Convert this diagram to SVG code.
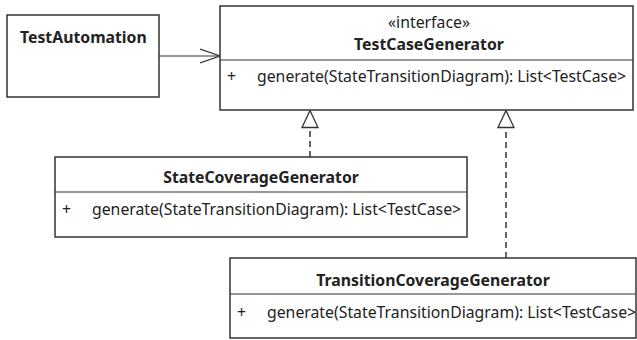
<svg xmlns="http://www.w3.org/2000/svg" width="637" height="340" viewBox="0 0 637 340">
<defs>
<style>
.box{fill:#fff;stroke:#333;stroke-width:1.5}
.ln{stroke:#333;stroke-width:1.2;fill:none}
.t{font-family:"Noto Sans","Open Sans",sans-serif;font-size:15.8px;fill:#222}
.b{font-weight:bold}
.dash{stroke:#333;stroke-width:1.5;stroke-dasharray:6,4;fill:none}
</style>
<marker id="open" markerWidth="22" markerHeight="16" refX="20" refY="8" orient="auto" markerUnits="userSpaceOnUse">
<path d="M0,1 L20,8 L0,15" fill="none" stroke="#333" stroke-width="1.3"/>
</marker>
<marker id="tri" markerWidth="20" markerHeight="20" refX="18" refY="9" orient="auto" markerUnits="userSpaceOnUse">
<path d="M1,1 L18,9 L1,17 Z" fill="#fff" stroke="#333" stroke-width="1.3"/>
</marker>
</defs>
<rect width="637" height="340" fill="#fff"/>
<g id="connectors">
<line class="ln" x1="159" y1="56" x2="220" y2="56" marker-end="url(#open)"/>
<line class="dash" x1="310" y1="157" x2="310" y2="110.5" marker-end="url(#tri)"/>
<line class="dash" x1="506" y1="258" x2="506" y2="110.5" marker-end="url(#tri)"/>
</g>
<g id="TestAutomation">
<rect class="box" x="7" y="15" width="152" height="82"/>
<text class="t b" x="20" y="42.5">TestAutomation</text>
</g>
<g id="TestCaseGenerator">
<rect class="box" x="220" y="6" width="413" height="104"/>
<line class="ln" x1="220" y1="60" x2="633" y2="60"/>
<text class="t" x="429" y="28" text-anchor="middle">«interface»</text>
<text class="t b" x="429" y="50" text-anchor="middle">TestCaseGenerator</text>
<text class="t" x="227" y="82">+</text>
<text class="t" x="257" y="82">generate(StateTransitionDiagram): List&lt;TestCase&gt;</text>
</g>
<g id="StateCoverageGenerator">
<rect class="box" x="55" y="157" width="412" height="80"/>
<line class="ln" x1="55" y1="192" x2="467" y2="192"/>
<text class="t b" x="261" y="183" text-anchor="middle">StateCoverageGenerator</text>
<text class="t" x="62" y="215">+</text>
<text class="t" x="92" y="215">generate(StateTransitionDiagram): List&lt;TestCase&gt;</text>
</g>
<g id="TransitionCoverageGenerator">
<rect class="box" x="230" y="258" width="406" height="80"/>
<line class="ln" x1="230" y1="294" x2="636" y2="294"/>
<text class="t b" x="433" y="285.5" text-anchor="middle">TransitionCoverageGenerator</text>
<text class="t" x="237" y="317.5">+</text>
<text class="t" x="267" y="317.5">generate(StateTransitionDiagram): List&lt;TestCase&gt;</text>
</g>
</svg>
